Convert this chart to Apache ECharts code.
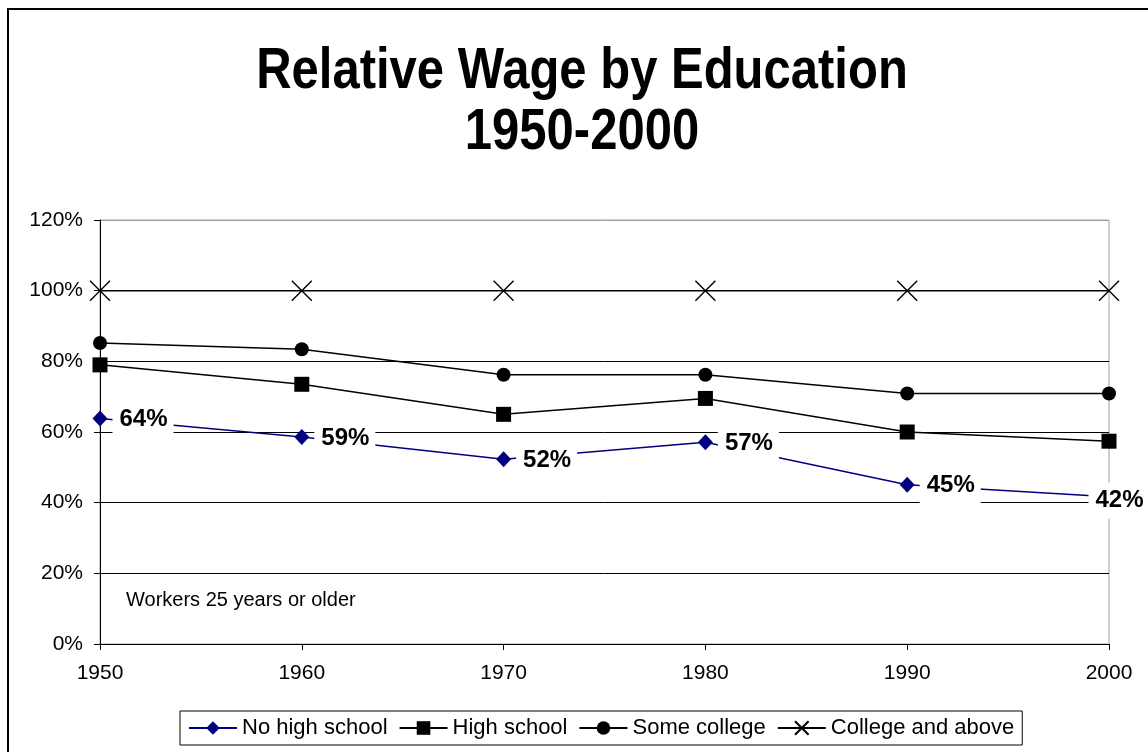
<!DOCTYPE html>
<html>
<head>
<meta charset="utf-8">
<script src="https://cdn.jsdelivr.net/npm/echarts@6/dist/echarts.min.js"></script>
<style>
html,body{margin:0;padding:0;background:#fff;}
#chart{width:1148px;height:752px;}
</style>
</head>
<body>
<div id="chart"></div>
<script>
// ---- data ----
const years = ['1950', '1960', '1970', '1980', '1990', '2000'];
const noHighSchool = [63.8, 58.6, 52.3, 57.1, 45.1, 41.7];
const highSchool = [79.0, 73.5, 65.0, 69.5, 60.0, 57.4];
const someCollege = [85.2, 83.4, 76.2, 76.2, 70.9, 70.9];
const collegeAbove = [100, 100, 100, 100, 100, 100];
const seriesNames = ['No high school', 'High school', 'Some college', 'College and above'];
const titleLines = ['Relative Wage by Education', '1950-2000'];
const noteText = 'Workers 25 years or older';

const FONT = 'Liberation Sans, Arial, Helvetica, sans-serif';
const chart = echarts.init(document.getElementById('chart'), null, {renderer: 'canvas'});

const noHSData = noHighSchool.map((v, i) =>
  i === noHighSchool.length - 1 ? {value: v, label: {offset: [-33, 4]}} : v);

const option = {
  backgroundColor: '#fff',
  animation: false,
  textStyle: {fontFamily: FONT, color: '#000'},
  graphic: [
    {type: 'rect', shape: {x: 8, y: 9, width: 1200, height: 800}, style: {fill: 'none', stroke: '#000', lineWidth: 2}, z: 100},
    {type: 'text', x: 582, y: 43, scaleY: 1.18, style: {text: titleLines[0], font: 'bold 49px ' + FONT, fill: '#000', textAlign: 'center', textVerticalAlign: 'top'}},
    {type: 'text', x: 582, y: 104, scaleY: 1.18, style: {text: titleLines[1], font: 'bold 49px ' + FONT, fill: '#000', textAlign: 'center', textVerticalAlign: 'top'}},
    {type: 'text', x: 126, y: 590, style: {text: noteText, font: '20px ' + FONT, fill: '#000'}, z: 50}
  ],
  grid: {left: 100, right: 39, top: 220, bottom: 108, show: true, borderColor: '#a0a0a0', borderWidth: 1, backgroundColor: '#fff'},
  legend: {
    data: seriesNames,
    left: 180, top: 711,
    padding: [6, 8, 6, 8],
    borderColor: '#000', borderWidth: 1,
    itemWidth: 48, itemHeight: 17, itemGap: 11,
    textStyle: {fontSize: 22, color: '#000', fontFamily: FONT}
  },
  xAxis: {
    type: 'category', data: years, boundaryGap: false,
    axisLine: {lineStyle: {color: '#000', width: 1}},
    axisTick: {show: true, length: 6, lineStyle: {color: '#000'}},
    axisLabel: {fontSize: 21, color: '#000', margin: 19, fontFamily: FONT},
    splitLine: {show: false}
  },
  yAxis: {
    type: 'value', min: 0, max: 120, interval: 20,
    axisLine: {show: true, lineStyle: {color: '#000', width: 1}},
    axisTick: {show: true, length: 6, lineStyle: {color: '#000'}},
    axisLabel: {fontSize: 21, color: '#000', margin: 17, formatter: '{value}%', fontFamily: FONT},
    splitLine: {show: true, lineStyle: {color: ['#000', '#000', '#000', '#000', '#000', '#000', '#a0a0a0'], width: 1}}
  },
  series: [
    {
      name: seriesNames[3], type: 'line', data: collegeAbove,
      symbol: 'path://M0,0L20,20M20,0L0,20', symbolSize: 20,
      lineStyle: {color: '#000', width: 1.5},
      itemStyle: {color: '#000', borderColor: '#000', borderWidth: 1.4},
      z: 3
    },
    {
      name: seriesNames[2], type: 'line', data: someCollege,
      symbol: 'circle', symbolSize: 14,
      lineStyle: {color: '#000', width: 1.5},
      itemStyle: {color: '#000'},
      z: 3
    },
    {
      name: seriesNames[1], type: 'line', data: highSchool,
      symbol: 'rect', symbolSize: 15,
      lineStyle: {color: '#000', width: 1.5},
      itemStyle: {color: '#000'},
      z: 3
    },
    {
      name: seriesNames[0], type: 'line', data: noHSData,
      symbol: 'diamond', symbolSize: [15, 16],
      lineStyle: {color: '#000080', width: 1.5},
      itemStyle: {color: '#000080'},
      label: {
        show: true, position: 'right', distance: 5, offset: [0, 1],
        formatter: p => Math.round(p.value) + '%',
        fontSize: 24, fontWeight: 'bold', color: '#000', fontFamily: FONT,
        backgroundColor: '#fff', padding: [6, 6, 6, 7], lineHeight: 24
      },
      z: 4
    }
  ]
};
chart.setOption(option);
</script>
</body>
</html>
